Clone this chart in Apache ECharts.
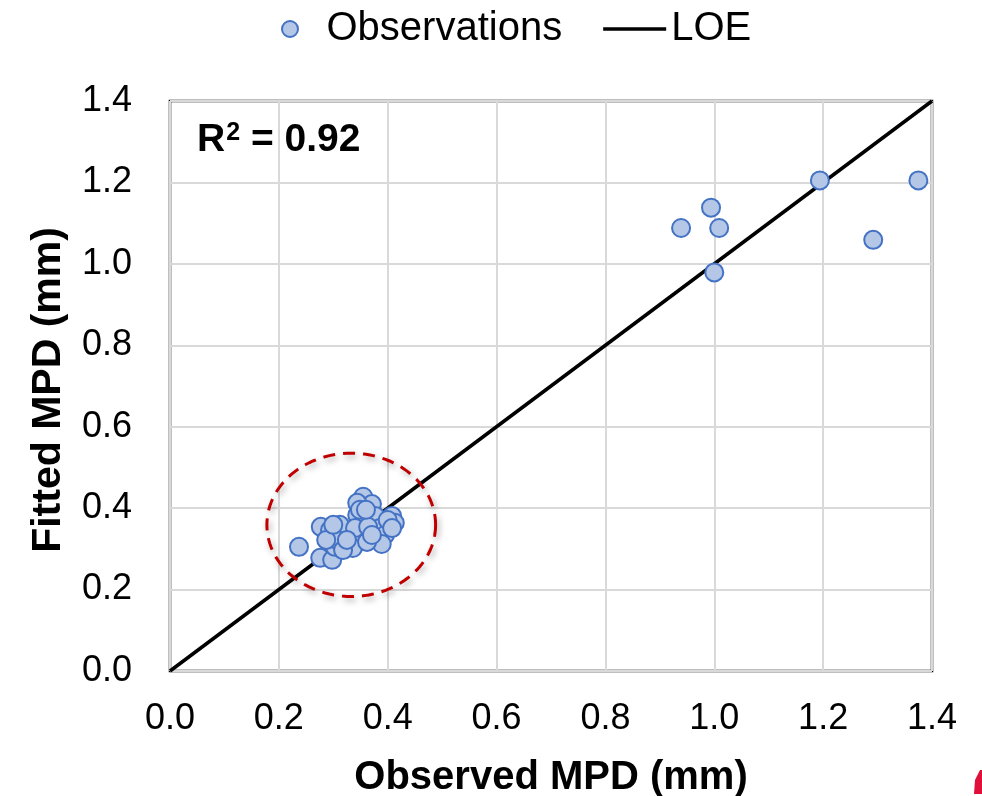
<!DOCTYPE html>
<html>
<head>
<meta charset="utf-8">
<script src="https://cdn.jsdelivr.net/npm/echarts@6/dist/echarts.min.js"></script>
<style>
html,body{margin:0;padding:0;background:#fff;}
#chart{width:982px;height:796px;}
</style>
</head>
<body>
<div id="chart"></div>
<script>
// ---- data ----
const obsX = [0.237,0.277,0.276,0.298,0.303,0.320,0.344,0.355,0.371,0.377,0.408,0.353,0.336,0.386,0.395,0.389,0.362,0.413,0.312,0.294,0.307,0.318,0.340,0.364,0.344,0.349,0.360,0.400,0.408,0.325,0.371,0.287,0.300,
              0.939,0.994,1.009,1.000,1.194,1.292,1.375];
const obsY = [0.305,0.354,0.278,0.273,0.305,0.344,0.383,0.428,0.410,0.381,0.381,0.319,0.302,0.351,0.334,0.312,0.317,0.364,0.359,0.346,0.322,0.297,0.351,0.354,0.413,0.396,0.396,0.371,0.351,0.322,0.334,0.322,0.359,
              1.088,1.138,1.088,0.979,1.205,1.059,1.205];
const loeX = [0, 1.4];
const loeY = [0, 1.4];
const axisTicks = [0, 0.2, 0.4, 0.6, 0.8, 1.0, 1.2, 1.4];
const r2Value = '0.92';
const xTitle = 'Observed MPD (mm)';
const yTitle = 'Fitted MPD (mm)';
const legendNames = ['Observations', 'LOE'];
// cluster highlight ellipse (data units)
const clusterCenter = [0.333, 0.359];
const clusterRadii = [0.155, 0.176];

const FONT = '"Liberation Sans", Arial, sans-serif';
const chart = echarts.init(document.getElementById('chart'), null, {renderer: 'canvas'});

const option = {
  animation: false,
  backgroundColor: '#fff',
  textStyle: {fontFamily: FONT},
  title: {
    text: '{a|R}{s|2}{a| = ' + r2Value + '}',
    left: 192, top: 116,
    textStyle: {
      fontFamily: FONT, fontSize: 39, fontWeight: 'bold', color: '#000',
      rich: {
        a: {fontFamily: FONT, fontSize: 39, fontWeight: 'bold', color: '#000'},
        s: {fontFamily: FONT, fontSize: 25, fontWeight: 'bold', color: '#000', verticalAlign: 'top', padding: [0, 0, 14, 1]}
      }
    }
  },
  legend: {
    left: 276, top: 4,
    itemWidth: 63, itemHeight: 16, itemGap: 41,
    textStyle: {fontFamily: FONT, fontSize: 40, color: '#000'},
    data: [
      {name: legendNames[0]},
      {name: legendNames[1], icon: 'path://M0,0H63V3.5H0Z'}
    ]
  },
  grid: {
    left: 170, top: 101, right: 50, bottom: 125,
    containLabel: false, outerBoundsMode: 'none',
    show: true, borderColor: '#000', borderWidth: 2.5, backgroundColor: 'transparent'
  },
  xAxis: {
    type: 'value', min: axisTicks[0], max: axisTicks[axisTicks.length-1], interval: 0.2,
    name: xTitle, nameLocation: 'middle', nameGap: 87,
    nameTextStyle: {fontFamily: FONT, fontSize: 40, fontWeight: 'bold', color: '#000'},
    axisLine: {show: false}, axisTick: {show: false},
    axisLabel: {margin: 30, fontFamily: FONT, fontSize: 36, color: '#000', formatter: v => v.toFixed(1)},
    splitLine: {show: true, lineStyle: {color: '#d9d9d9', width: 2}}
  },
  yAxis: {
    type: 'value', min: axisTicks[0], max: axisTicks[axisTicks.length-1], interval: 0.2,
    name: yTitle, nameLocation: 'middle', nameGap: 101,
    nameTextStyle: {fontFamily: FONT, fontSize: 41, fontWeight: 'bold', color: '#000', padding: [0, 8, 0, 0]},
    axisLine: {show: false}, axisTick: {show: false},
    axisLabel: {margin: 38, fontFamily: FONT, fontSize: 36, color: '#000', formatter: v => v.toFixed(1)},
    splitLine: {show: true, lineStyle: {color: '#d9d9d9', width: 2}}
  },
  series: [
    {
      name: legendNames[1], type: 'line', z: 2,
      data: loeX.map((x, i) => [x, loeY[i]]),
      symbol: 'none', showSymbol: false,
      lineStyle: {color: '#000', width: 3.5},
      itemStyle: {color: '#000'}
    },
    {
      name: 'cluster', type: 'custom', z: 3, silent: true,
      data: [[clusterCenter[0], clusterCenter[1]]],
      renderItem: function (params, api) {
        const c = api.coord([api.value(0), api.value(1)]);
        const s = api.size([clusterRadii[0], clusterRadii[1]]);
        const pts = [];
        for (let k = 0; k < 120; k++) {
          const t = k / 120 * Math.PI * 2;
          pts.push([c[0] + s[0] * Math.cos(t), c[1] + s[1] * Math.sin(t)]);
        }
        return {
          type: 'polygon',
          shape: {points: pts},
          style: {
            fill: null, stroke: '#c00000', lineWidth: 3, lineDash: [12, 8],
            shadowBlur: 6, shadowColor: 'rgba(0,0,0,0.35)', shadowOffsetX: 2, shadowOffsetY: 3
          }
        };
      }
    },
    {
      name: legendNames[0], type: 'scatter', z: 4,
      data: obsX.map((x, i) => [x, obsY[i]]),
      symbol: 'circle', symbolSize: 18,
      itemStyle: {color: '#b4c7e7', borderColor: '#4472c4', borderWidth: 2, opacity: 1}
    }
  ],
  graphic: [
    {type: 'polygon', right: 0, bottom: 2, shape: {points: [[6,0],[8,0],[8,24],[0,24],[1,10]]},
     style: {fill: '#e0103a'}, silent: true}
  ]
};
chart.setOption(option);
</script>
</body>
</html>
